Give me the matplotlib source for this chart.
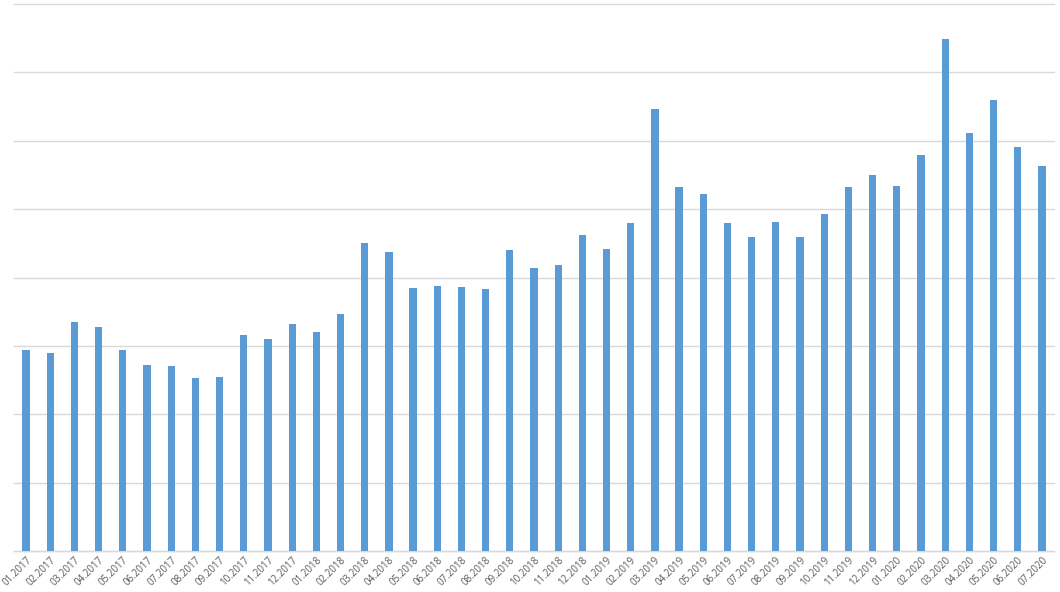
import matplotlib
matplotlib.use("Agg")
import matplotlib.pyplot as plt

months = ["01.2017","02.2017","03.2017","04.2017","05.2017","06.2017","07.2017","08.2017","09.2017","10.2017","11.2017","12.2017",
          "01.2018","02.2018","03.2018","04.2018","05.2018","06.2018","07.2018","08.2018","09.2018","10.2018","11.2018","12.2018",
          "01.2019","02.2019","03.2019","04.2019","05.2019","06.2019","07.2019","08.2019","09.2019","10.2019","11.2019","12.2019",
          "01.2020","02.2020","03.2020","04.2020","05.2020","06.2020","07.2020"]
values = [2.94, 2.89, 3.35, 3.27, 2.94, 2.72, 2.70, 2.53, 2.54, 3.16, 3.10, 3.32,
          3.20, 3.46, 4.50, 4.37, 3.85, 3.87, 3.86, 3.83, 4.40, 4.14, 4.18, 4.62,
          4.42, 4.80, 6.46, 5.32, 5.22, 4.80, 4.59, 4.81, 4.59, 4.93, 5.32, 5.50,
          5.34, 5.79, 7.49, 6.11, 6.59, 5.91, 5.63]

fig = plt.figure(figsize=(10.6, 5.92), dpi=100)
ax = fig.add_axes([14/1060, 1-551/592, 1040/1060, 547/592])
x = list(range(len(months)))
ax.bar(x, values, width=0.3, color="#5B9BD5", zorder=3)
ax.set_xlim(-0.5, len(months)-0.5)
ax.set_ylim(0, 8)
ax.set_yticks(range(0, 9))
ax.yaxis.grid(True, color="#D9D9D9", linewidth=1, zorder=0)
for gl in ax.get_ygridlines():
    gl.set_clip_on(False)
ax.tick_params(axis="y", left=False, labelleft=False)
ax.tick_params(axis="x", length=0, pad=3)
ax.set_xticks(x)
ax.set_xticklabels(months, rotation=45, ha="right", rotation_mode="anchor",
                   fontsize=7, color="#595959", family=["Open Sans", "DejaVu Sans"])
for s in ["top", "left", "right"]:
    ax.spines[s].set_visible(False)
ax.spines["bottom"].set_color("#D9D9D9")
ax.spines["bottom"].set_linewidth(1)
fig.savefig("out.png", dpi=100)
